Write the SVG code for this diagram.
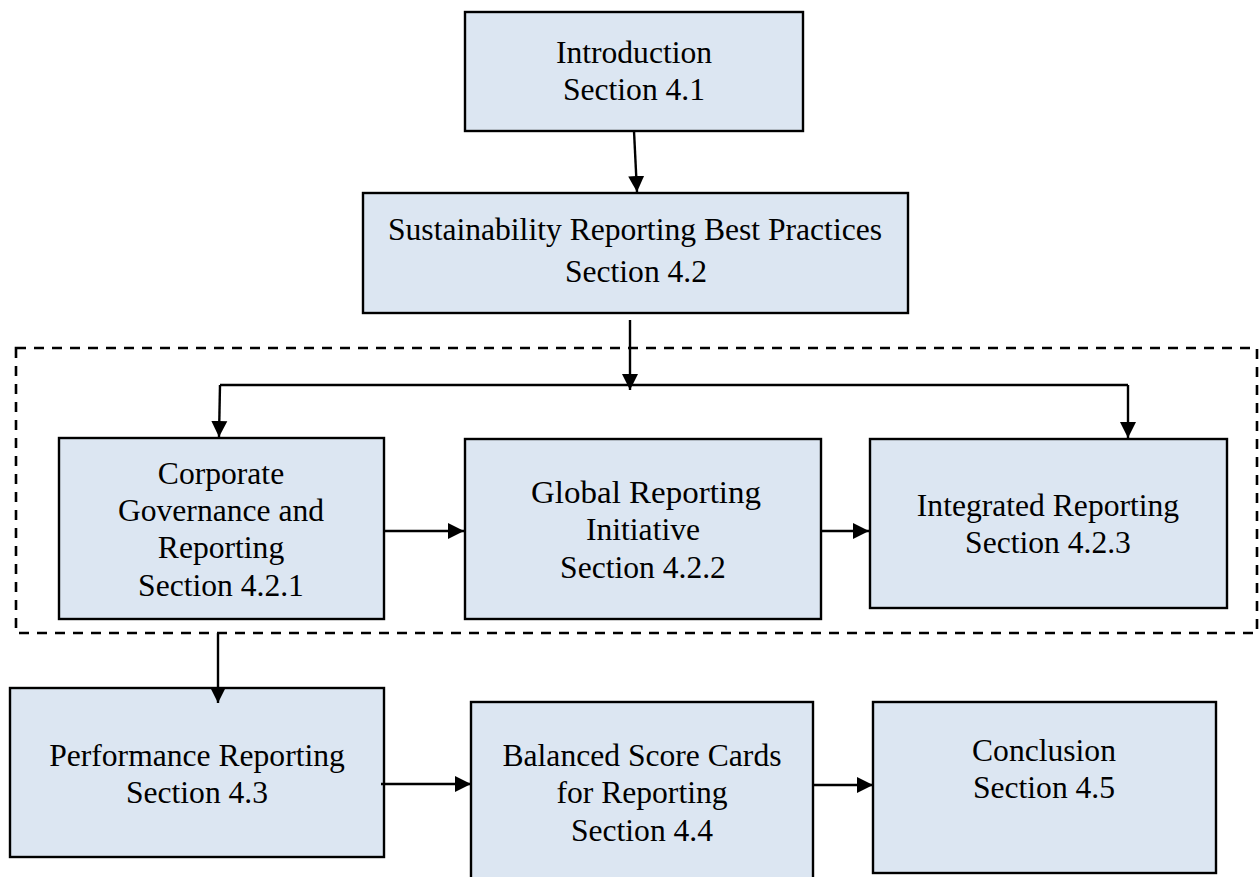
<svg xmlns="http://www.w3.org/2000/svg" width="1259" height="877" viewBox="0 0 1259 877">
  <style>
    .box { fill: #dce6f2; stroke: #000; stroke-width: 2.4; }
    .lbl { font-size: 31.6px; fill: #000; text-anchor: middle; }
    .wire { fill: none; stroke: #000; stroke-width: 2.4; }
    .arrow { fill: none; stroke: #000; stroke-width: 2.4; marker-end: url(#head); }
    .frame { fill: none; stroke: #000; stroke-width: 2.6; stroke-dasharray: 10 8; }
  </style>
  <defs>
    <marker id="head" markerUnits="userSpaceOnUse" markerWidth="18" markerHeight="18" refX="16" refY="9" orient="auto">
      <path d="M0,1 L16,9 L0,17 Z" fill="#000"/>
    </marker>
  </defs>
  <rect width="1259" height="877" fill="#fff"/>

  <!-- dashed grouping frame around the 4.2.x subsections -->
  <rect class="frame" x="16" y="348" width="1241" height="285"/>

  <g font-family="Liberation Serif, Times New Roman, serif">
    <g id="intro">
      <rect class="box" x="465" y="12" width="338" height="119"/>
      <text class="lbl" x="634" y="63">Introduction</text>
      <text class="lbl" x="634" y="100">Section 4.1</text>
    </g>

    <g id="best-practices">
      <rect class="box" x="363" y="193" width="545" height="120"/>
      <text class="lbl" x="635" y="240">Sustainability Reporting Best Practices</text>
      <text class="lbl" x="636" y="282">Section 4.2</text>
    </g>

    <g id="governance">
      <rect class="box" x="59" y="438" width="325" height="181"/>
      <text class="lbl" x="221" y="484">Corporate</text>
      <text class="lbl" x="221" y="521">Governance and</text>
      <text class="lbl" x="221" y="558">Reporting</text>
      <text class="lbl" x="221" y="596">Section 4.2.1</text>
    </g>

    <g id="gri">
      <rect class="box" x="465" y="439" width="356" height="180"/>
      <text class="lbl" x="646" y="503" textLength="230" lengthAdjust="spacingAndGlyphs">Global Reporting</text>
      <text class="lbl" x="643" y="540">Initiative</text>
      <text class="lbl" x="643" y="578">Section 4.2.2</text>
    </g>

    <g id="integrated">
      <rect class="box" x="870" y="439" width="357" height="169"/>
      <text class="lbl" x="1048" y="516">Integrated Reporting</text>
      <text class="lbl" x="1048" y="553">Section 4.2.3</text>
    </g>

    <g id="performance">
      <rect class="box" x="10" y="688" width="374" height="169"/>
      <text class="lbl" x="197" y="766">Performance Reporting</text>
      <text class="lbl" x="197" y="803">Section 4.3</text>
    </g>

    <g id="scorecards">
      <rect class="box" x="471" y="702" width="342" height="190"/>
      <text class="lbl" x="642" y="766">Balanced Score Cards</text>
      <text class="lbl" x="642" y="803">for Reporting</text>
      <text class="lbl" x="642" y="841">Section 4.4</text>
    </g>

    <g id="conclusion">
      <rect class="box" x="873" y="702" width="343" height="171"/>
      <text class="lbl" x="1044" y="761">Conclusion</text>
      <text class="lbl" x="1044" y="798">Section 4.5</text>
    </g>
  </g>

  <g id="connectors">
    <line class="arrow" x1="634" y1="131" x2="637" y2="192"/>
    <line class="arrow" x1="630" y1="320" x2="630" y2="390"/>
    <polyline class="wire" points="220,385 1128,385"/>
    <line class="arrow" x1="220" y1="385" x2="219" y2="437"/>
    <line class="arrow" x1="1128" y1="385" x2="1128" y2="438"/>
    <line class="arrow" x1="384" y1="531" x2="464" y2="531"/>
    <line class="arrow" x1="821" y1="531" x2="869" y2="531"/>
    <line class="arrow" x1="218" y1="633" x2="218" y2="703"/>
    <line class="arrow" x1="381" y1="784" x2="471" y2="784"/>
    <line class="arrow" x1="813" y1="785" x2="873" y2="785"/>
  </g>
</svg>
